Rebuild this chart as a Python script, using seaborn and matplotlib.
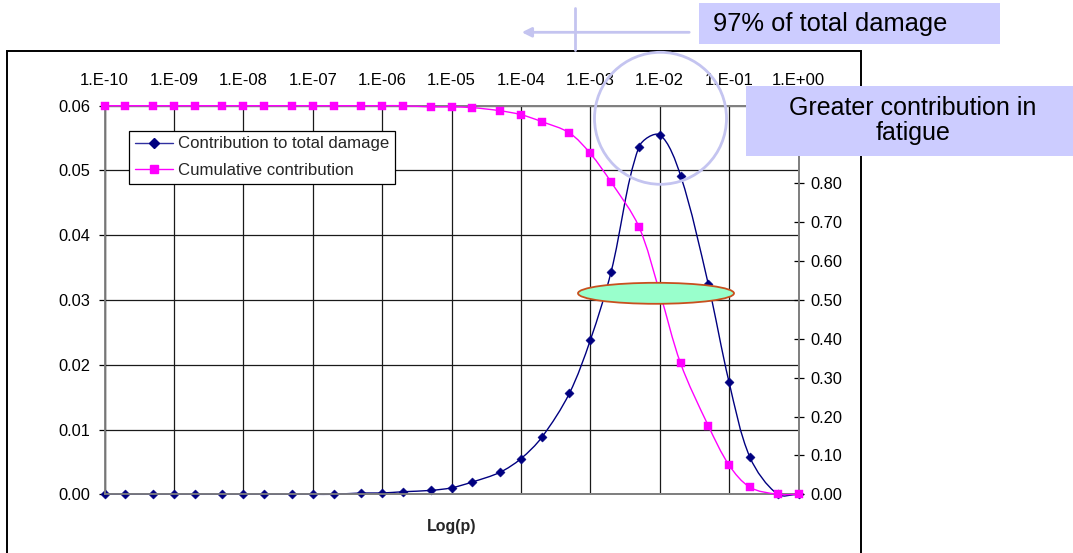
import numpy as np
import matplotlib
matplotlib.use("Agg")
import matplotlib.pyplot as plt
from matplotlib.path import Path
from matplotlib.patches import PathPatch, Rectangle, Ellipse, Circle, FancyArrowPatch
from matplotlib.lines import Line2D
from matplotlib.ticker import NullLocator, FixedLocator
import seaborn as sns

# Exceedance probability p (1-2-5 steps per decade)
p_values = [1e-10, 2e-10, 5e-10, 1e-9, 2e-9, 5e-9, 1e-8, 2e-8, 5e-8,
            1e-7, 2e-7, 5e-7, 1e-6, 2e-6, 5e-6, 1e-5, 2e-5, 5e-5,
            1e-4, 2e-4, 5e-4, 1e-3, 2e-3, 5e-3, 1e-2, 2e-2, 5e-2,
            1e-1, 2e-1, 5e-1, 1e0]

# Contribution to total fatigue damage (left axis)
contribution = [0.0, 0.0, 0.0, 0.0, 0.0, 0.0, 0.0, 0.0, 0.0,
                0.0, 0.0, 0.0002, 0.0002, 0.0004, 0.0006, 0.0010, 0.0019, 0.0034,
                0.0055, 0.0088, 0.0156, 0.0238, 0.0344, 0.0536, 0.0555, 0.0492, 0.0325,
                0.0173, 0.0057, 0.0, 0.0]

# Cumulative contribution (right axis)
cumulative = [1.0, 1.0, 1.0, 1.0, 1.0, 1.0, 1.0, 1.0, 1.0,
              1.0, 1.0, 1.0, 1.0, 1.0, 0.997, 0.997, 0.995, 0.987,
              0.977, 0.959, 0.930, 0.877, 0.803, 0.689, 0.52, 0.337, 0.177,
              0.075, 0.018, 0.0, 0.0]

decade_ticks = [1e-10, 1e-9, 1e-8, 1e-7, 1e-6, 1e-5, 1e-4, 1e-3, 1e-2, 1e-1, 1e0]
decade_labels = ["1.E-10", "1.E-09", "1.E-08", "1.E-07", "1.E-06", "1.E-05",
                 "1.E-04", "1.E-03", "1.E-02", "1.E-01", "1.E+00"]
left_ticks = [0.00, 0.01, 0.02, 0.03, 0.04, 0.05, 0.06]
right_ticks = [0.0, 0.1, 0.2, 0.3, 0.4, 0.5, 0.6, 0.7, 0.8, 0.9, 1.0]
# the two top labels of the right axis sit under the callout box
right_labels = ["0.00", "0.10", "0.20", "0.30", "0.40", "0.50", "0.60",
                "0.70", "0.80", "", ""]

series_names = ["Contribution to total damage", "Cumulative contribution"]
note_total = "97% of total damage"
note_fatigue = "Greater contribution in\nfatigue"

NAVY = "#000080"
MAGENTA = "#FF00FF"
LAVENDER = "#CCCCFF"
LAVENDER_LINE = "#C4C4F0"

sns.set_style("white")
plt.rcParams["font.family"] = ["Liberation Sans", "DejaVu Sans"]

W, H, DPI = 1073, 553, 100
fig = plt.figure(figsize=(W / DPI, H / DPI), dpi=DPI)
fig.patch.set_facecolor("white")


def px_box(x0, y0, x1, y1):
    """Figure-fraction rect from pixel box measured from the top-left."""
    return [x0 / W, 1 - y1 / H, (x1 - x0) / W, (y1 - y0) / H]


ax = fig.add_axes(px_box(104.5, 105.7, 798.5, 494.3))
ax2 = ax.twinx()

# Axes setup
for a in (ax, ax2):
    a.set_xscale("log")
    a.set_xlim(1e-10, 1e0)
ax.set_ylim(0, 0.06)
ax2.set_ylim(0, 1.0)


def smooth_path(axis, xs, ys):
    """Spreadsheet-style smoothed line: Bezier segments whose handles are
    scaled by the neighbouring segment lengths, computed on screen."""
    disp = axis.transData.transform(np.column_stack([xs, ys]))
    n = len(disp)
    verts = [disp[0]]
    codes = [Path.MOVETO]
    for i in range(n - 1):
        p0 = disp[max(i - 1, 0)]
        p1 = disp[i]
        p2 = disp[i + 1]
        p3 = disp[min(i + 2, n - 1)]
        d01 = np.hypot(*(p1 - p0))
        d12 = np.hypot(*(p2 - p1))
        d23 = np.hypot(*(p3 - p2))
        a = d12 / (d01 + d12) / 3.0 if d01 + d12 > 0 else 0.0
        b = d12 / (d12 + d23) / 3.0 if d12 + d23 > 0 else 0.0
        verts += [p1 + (p2 - p0) * a, p2 - (p3 - p1) * b, p2]
        codes += [Path.CURVE4] * 3
    data = axis.transData.inverted().transform(np.array(verts))
    return Path(data, codes)


# Smoothed lines
ax.add_patch(PathPatch(smooth_path(ax, p_values, contribution), fill=False,
                       edgecolor=NAVY, lw=1.0, transform=ax.transData,
                       clip_on=False, zorder=3))
ax2.add_patch(PathPatch(smooth_path(ax2, p_values, cumulative), fill=False,
                        edgecolor=MAGENTA, lw=1.0, transform=ax2.transData,
                        clip_on=False, zorder=3))

# Markers
sns.scatterplot(x=p_values, y=contribution, ax=ax, marker="D", s=22,
                color=NAVY, edgecolor=NAVY, linewidth=0.3, zorder=4,
                clip_on=False, legend=False)
sns.scatterplot(x=p_values, y=cumulative, ax=ax2, marker="s", s=28,
                color=MAGENTA, edgecolor=MAGENTA, linewidth=0.3, zorder=4,
                clip_on=False, legend=False)

# Grid and ticks
ax.xaxis.set_major_locator(FixedLocator(decade_ticks))
ax.xaxis.set_minor_locator(NullLocator())
ax2.xaxis.set_minor_locator(NullLocator())
ax.set_xticklabels(decade_labels)
ax.tick_params(axis="x", top=True, labeltop=True, bottom=False,
               labelbottom=False, length=0, pad=13, labelsize=12,
               labelcolor="black")
ax2.tick_params(axis="x", top=False, labeltop=False, bottom=False,
                labelbottom=False, length=0)

ax.set_yticks(left_ticks)
ax.set_yticklabels([f"{v:.2f}" for v in left_ticks])
ax.tick_params(axis="y", left=True, length=4.5, width=0.9, color="black",
               direction="out", pad=6, labelsize=11.8, labelcolor="black")

ax2.set_yticks(right_ticks)
ax2.set_yticklabels(right_labels)
ax2.tick_params(axis="y", right=True, length=7.5, width=0.9, color="black",
                direction="inout", pad=5, labelsize=11.8, labelcolor="black")

ax.grid(True, which="major", axis="both", color="#1a1a1a", lw=0.9)
ax2.grid(False)
ax.set_axisbelow(True)

for a in (ax, ax2):
    for s in a.spines.values():
        s.set_color("#808080")
        s.set_linewidth(1.3)
ax.spines["left"].set_color("#1a1a1a")
ax.spines["left"].set_linewidth(0.9)

ax.set_ylabel("")
ax2.set_ylabel("")
ax.xaxis.set_label_position("bottom")
ax.set_xlabel("Log(p)", fontsize=11.5, fontweight="bold", labelpad=18)

# Legend
handles = [
    Line2D([], [], color="#3030A0", lw=1.0, marker="D", markersize=4.8,
           markerfacecolor=NAVY, markeredgecolor=NAVY),
    Line2D([], [], color=MAGENTA, lw=1.0, marker="s", markersize=5.3,
           markerfacecolor=MAGENTA, markeredgecolor=MAGENTA),
]
leg = ax2.legend(handles, series_names, loc="upper left",
                 bbox_to_anchor=(0.0355, 0.9357), borderaxespad=0,
                 fontsize=12.1, frameon=True, fancybox=False, shadow=False,
                 handlelength=2.28, handletextpad=0.3, borderpad=0.34,
                 labelspacing=0.7)
leg.get_frame().set_edgecolor("black")
leg.get_frame().set_linewidth(0.9)
leg.get_frame().set_facecolor("white")
leg.get_frame().set_alpha(1.0)
leg.set_zorder(10)

# Chart area border
px = fig.dpi_scale_trans


def inch(xp, yp):
    return (xp / DPI, (H - yp) / DPI)


fig.add_artist(Rectangle(inch(7, 600), 854 / DPI, 549.3 / DPI, fill=False,
                         edgecolor="black", lw=1.4, transform=px, zorder=1))

# Highlight ellipse around the 50 % level
fig.add_artist(Ellipse(inch(656, 293.3), 1.56, 0.21, facecolor="#99FFCC",
                       edgecolor="#C8501E", lw=1.3, transform=px, zorder=20))

# Circle around the peak
fig.add_artist(Circle(inch(660.5, 118.3), 0.66, fill=False,
                      edgecolor=LAVENDER_LINE, lw=2.0, transform=px, zorder=21))

# Range arrow and marker line
fig.add_artist(FancyArrowPatch(inch(692, 32.3), inch(519, 32.3),
                               arrowstyle="-|>", mutation_scale=14,
                               color=LAVENDER_LINE, lw=2.0, transform=px,
                               zorder=21))
fig.add_artist(Line2D([575 / DPI, 575 / DPI], [(H - 8) / DPI, (H - 50) / DPI],
                      color=LAVENDER_LINE, lw=2.0, transform=px, zorder=21))

# Annotation boxes
fig.add_artist(Rectangle(inch(699, 44.3), 301 / DPI, 41 / DPI,
                         facecolor=LAVENDER, edgecolor="none", transform=px,
                         zorder=22))
fig.text(713 / W, 1 - 24 / H, note_total, ha="left", va="center",
         fontsize=18.4, color="black", zorder=23)

fig.add_artist(Rectangle(inch(745.5, 155.7), 330 / DPI, 69.7 / DPI,
                         facecolor=LAVENDER, edgecolor="none", transform=px,
                         zorder=22))
fig.text(913 / W, 1 - 120.5 / H, note_fatigue, ha="center", va="center",
         fontsize=18, color="black", linespacing=1.02, zorder=23)

fig.savefig("out.png", dpi=DPI)
